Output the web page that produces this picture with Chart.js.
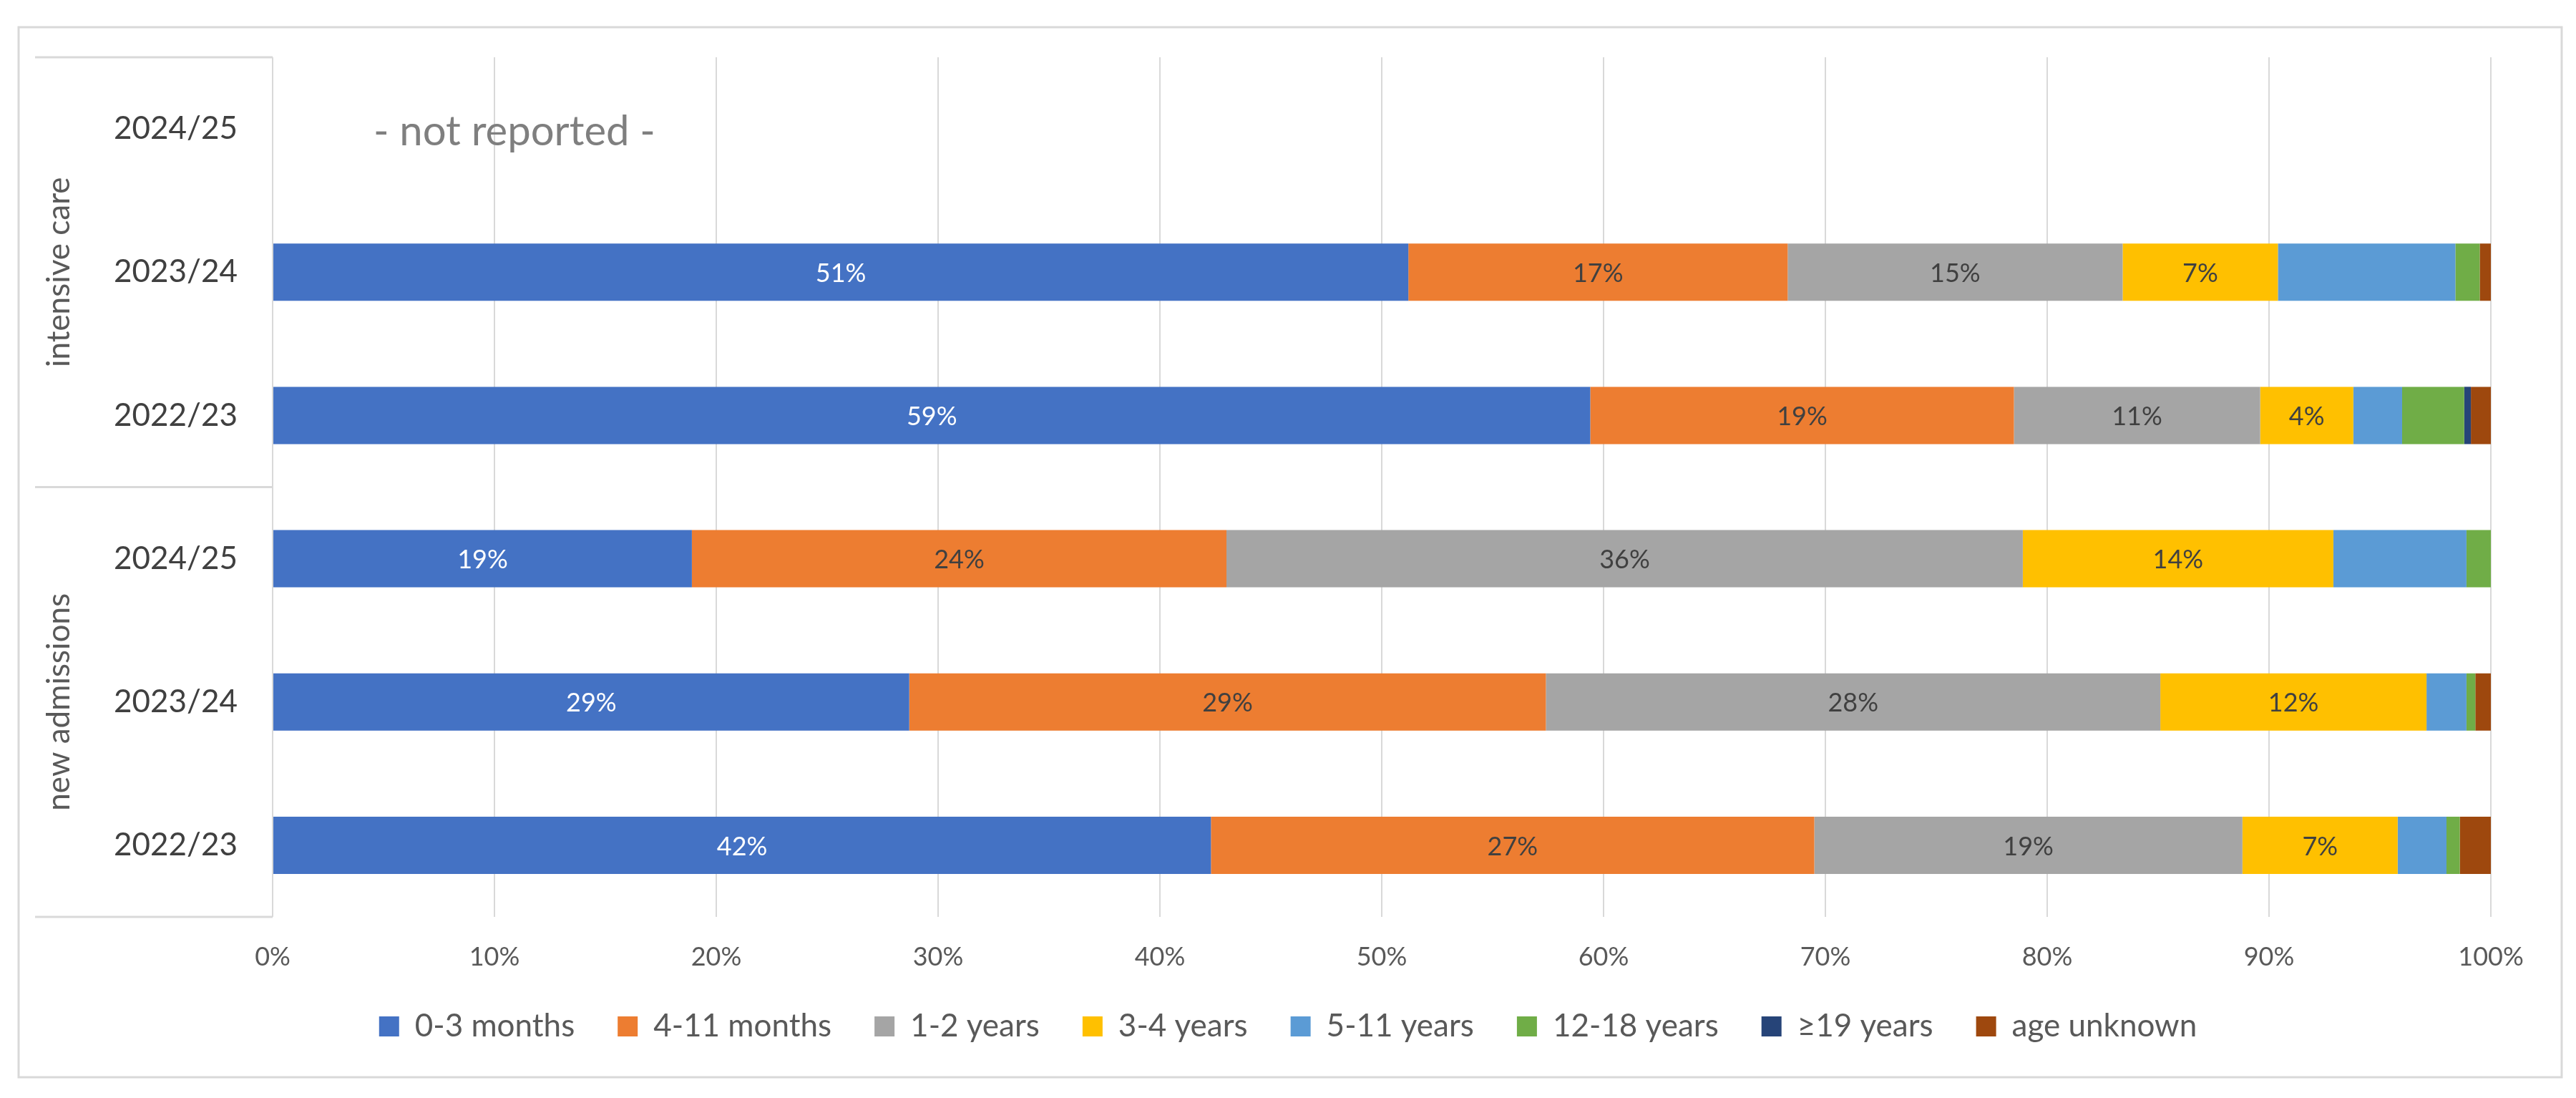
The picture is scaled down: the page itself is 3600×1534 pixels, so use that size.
<!DOCTYPE html>
<html>
<head>
<meta charset="utf-8">
<script src="https://cdn.jsdelivr.net/npm/chart.js@4.4.1/dist/chart.umd.min.js"></script>
<style>
  html, body { margin: 0; padding: 0; background: #ffffff; }
  #wrap { width: 3600px; height: 1534px; position: relative; }
</style>
</head>
<body>
<div id="wrap"><canvas id="myChart"></canvas></div>
<script>
// categories, top to bottom
const years = ['2024/25', '2023/24', '2022/23', '2024/25', '2023/24', '2022/23'];
const groups = ['intensive care', 'new admissions'];
const groupSize = 3;

// share of age groups in %, one array per series (intensive care 2024/25 not reported)
const age0to3m   = [null, 51.2, 59.4, 18.9, 28.7, 42.3];
const age4to11m  = [null, 17.1, 19.1, 24.1, 28.7, 27.2];
const age1to2y   = [null, 15.1, 11.1, 35.9, 27.7, 19.3];
const age3to4y   = [null, 7.0, 4.2, 14.0, 12.0, 7.0];
const age5to11y  = [null, 8.0, 2.2, 6.0, 1.8, 2.2];
const age12to18y = [null, 1.1, 2.8, 1.1, 0.4, 0.6];
const age19plus  = [null, 0, 0.3, 0, 0, 0];
const ageUnknown = [null, 0.5, 0.9, 0, 0.7, 1.4];

const seriesNames = ['0-3 months', '4-11 months', '1-2 years', '3-4 years', '5-11 years', '12-18 years', '\u226519 years', 'age unknown'];
const seriesValues = [age0to3m, age4to11m, age1to2y, age3to4y, age5to11y, age12to18y, age19plus, ageUnknown];
const seriesColors = ['#4472C4', '#ED7D31', '#A5A5A5', '#FFC000', '#5B9BD5', '#70AD47', '#264478', '#9E480E'];
const labelledSeries = 4; // only the first four series carry value labels

const xTicks = [0, 10, 20, 30, 40, 50, 60, 70, 80, 90, 100];
const noteText = '- not reported -';
const noteAt = { row: 0, value: 10.9 };

const FONT = 'Lato, "Open Sans", sans-serif';
const GRID = '#D9D9D9';

const datasets = seriesNames.map(function (name, i) {
  return {
    label: name,
    data: seriesValues[i],
    backgroundColor: seriesColors[i],
    borderWidth: 0,
    barPercentage: 0.4,
    categoryPercentage: 1.0
  };
});

// frame, group lines, group titles, note and value labels
const extras = {
  id: 'extras',
  beforeDraw(chart) {
    const c = chart.ctx;
    c.save();
    c.fillStyle = '#ffffff';
    c.fillRect(0, 0, chart.width, chart.height);
    c.strokeStyle = GRID;
    c.lineWidth = 3;
    c.strokeRect(26, 38, 3554, 1467);
    c.restore();
  },
  afterDatasetsDraw(chart) {
    const c = chart.ctx;
    const area = chart.chartArea;
    const y = chart.scales.y;
    const x = chart.scales.x;
    const step = y.getPixelForValue(1) - y.getPixelForValue(0);

    c.save();
    // horizontal lines that box the groups in the left column
    c.strokeStyle = GRID;
    c.lineWidth = 3;
    for (let g = 0; g <= groups.length; g++) {
      const yy = g === 0 ? area.top : (g === groups.length ? area.bottom : y.getPixelForValue(g * groupSize) - step / 2);
      c.beginPath();
      c.moveTo(49, yy);
      c.lineTo(area.left, yy);
      c.stroke();
    }

    // group titles, rotated
    c.fillStyle = '#595959';
    c.font = '44px ' + FONT;
    c.textAlign = 'center';
    c.textBaseline = 'middle';
    groups.forEach(function (name, g) {
      const mid = (y.getPixelForValue(g * groupSize) + y.getPixelForValue(g * groupSize + groupSize - 1)) / 2;
      c.save();
      c.translate(83, mid);
      c.rotate(-Math.PI / 2);
      c.fillText(name, 0, 0);
      c.restore();
    });

    // note for the missing row
    c.fillStyle = '#7F7F7F';
    c.font = '58px ' + FONT;
    c.fillText(noteText, x.getPixelForValue(noteAt.value), y.getPixelForValue(noteAt.row) + 4);

    // value labels
    c.font = '36px ' + FONT;
    chart.data.datasets.forEach(function (ds, i) {
      if (i >= labelledSeries) return;
      const meta = chart.getDatasetMeta(i);
      meta.data.forEach(function (bar, j) {
        const v = ds.data[j];
        if (v === null || v === undefined) return;
        c.fillStyle = i === 0 ? '#ffffff' : '#404040';
        c.fillText(Math.round(v) + '%', (bar.x + bar.base) / 2, bar.y + 2);
      });
    });
    c.restore();
  }
};

const ctx = document.getElementById('myChart');

const myChart = new Chart(ctx, {
  type: 'bar',
  data: {
    labels: years,
    datasets: datasets
  },
  options: {
    indexAxis: 'y',
    responsive: true,
    maintainAspectRatio: false,
    devicePixelRatio: 1,
    animation: false,
    layout: { padding: { top: 80, right: 119, bottom: 68, left: 119 } },
    scales: {
      x: {
        stacked: true,
        min: 0,
        max: 100,
        afterBuildTicks: function (scale) {
          scale.ticks = xTicks.map(function (v) { return { value: v }; });
        },
        afterFit: function (scale) { scale.height = 71; },
        grid: { color: GRID, lineWidth: 2, drawTicks: false },
        border: { display: false },
        ticks: {
          padding: 35,
          color: '#595959',
          font: { family: FONT, size: 36 },
          callback: function (v) { return v + '%'; }
        }
      },
      y: {
        stacked: true,
        afterFit: function (scale) { scale.width = 262; },
        grid: { display: false, drawTicks: false },
        border: { display: false },
        ticks: {
          padding: 49,
          color: '#404040',
          font: { family: FONT, size: 44 }
        }
      }
    },
    plugins: {
      legend: {
        position: 'bottom',
        labels: {
          boxWidth: 28,
          boxHeight: 28,
          padding: 60,
          color: '#595959',
          font: { family: FONT, size: 44 }
        }
      },
      tooltip: { enabled: false }
    }
  },
  plugins: [extras]
});
</script>
</body>
</html>
